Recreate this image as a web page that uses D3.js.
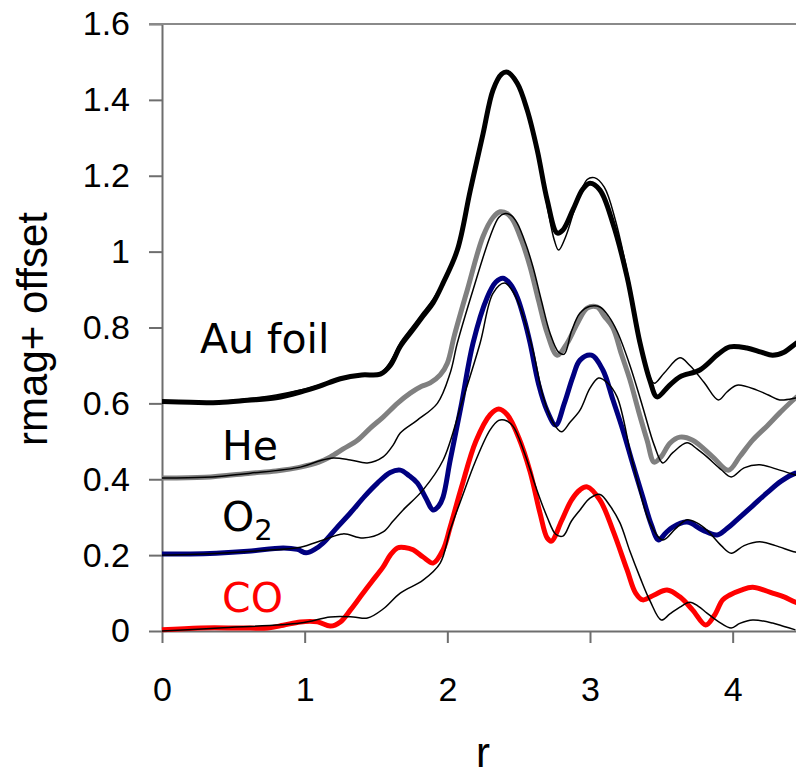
<!DOCTYPE html>
<html>
<head>
<meta charset="utf-8">
<script src="https://cdn.jsdelivr.net/npm/d3@7"></script>
<style>
  body { margin: 0; background: #fff; }
  svg { display: block; }
</style>
</head>
<body>
<div id="chart"></div>
<script>
// x ticks, y ticks
const xTicks = [0, 1, 2, 3, 4];
const yTicks = [0, 0.2, 0.4, 0.6, 0.8, 1, 1.2, 1.4, 1.6];

// measured curves, [r, rmag+offset]
const auFoil = [[0,0.605],[0.2,0.603],[0.4,0.602],[0.6,0.608],[0.8,0.615],[0.97,0.63],[1.1,0.645],[1.25,0.665],[1.4,0.675],[1.53,0.677],[1.6,0.70],[1.67,0.75],[1.75,0.79],[1.83,0.83],[1.9,0.865],[1.97,0.917],[2.07,1.004],[2.16,1.16],[2.25,1.31],[2.32,1.426],[2.38,1.468],[2.42,1.473],[2.49,1.444],[2.56,1.373],[2.63,1.268],[2.70,1.136],[2.77,1.049],[2.81,1.057],[2.88,1.11],[2.95,1.165],[3.0,1.18],[3.07,1.162],[3.16,1.075],[3.26,0.933],[3.35,0.76],[3.42,0.66],[3.47,0.617],[3.55,0.645],[3.63,0.67],[3.77,0.688],[3.9,0.73],[3.98,0.749],[4.10,0.746],[4.2,0.735],[4.28,0.727],[4.36,0.735],[4.44,0.757],[4.5,0.77]];
const auFit = [[0,0.605],[0.2,0.603],[0.4,0.605],[0.6,0.612],[0.8,0.622],[0.97,0.635],[1.1,0.648],[1.25,0.665],[1.4,0.675],[1.53,0.68],[1.6,0.71],[1.67,0.76],[1.75,0.80],[1.83,0.84],[1.9,0.875],[1.97,0.92],[2.07,1.01],[2.16,1.17],[2.25,1.32],[2.32,1.43],[2.38,1.47],[2.42,1.475],[2.49,1.45],[2.56,1.38],[2.63,1.27],[2.70,1.12],[2.75,1.03],[2.78,1.004],[2.83,1.04],[2.9,1.12],[2.98,1.19],[3.03,1.195],[3.1,1.17],[3.18,1.08],[3.27,0.93],[3.35,0.77],[3.41,0.68],[3.45,0.653],[3.52,0.68],[3.63,0.72],[3.7,0.70],[3.8,0.655],[3.9,0.609],[3.96,0.63],[4.03,0.648],[4.17,0.635],[4.25,0.622],[4.33,0.609],[4.44,0.614],[4.5,0.62]];
const he = [[0,0.403],[0.3,0.405],[0.62,0.416],[0.8,0.422],[0.97,0.432],[1.1,0.445],[1.18,0.459],[1.27,0.48],[1.37,0.503],[1.46,0.535],[1.55,0.564],[1.65,0.60],[1.74,0.627],[1.82,0.645],[1.88,0.654],[1.95,0.675],[2.0,0.706],[2.05,0.78],[2.14,0.899],[2.25,1.04],[2.32,1.09],[2.37,1.105],[2.42,1.10],[2.46,1.083],[2.52,1.03],[2.58,0.96],[2.64,0.87],[2.70,0.785],[2.77,0.727],[2.84,0.759],[2.91,0.81],[2.98,0.851],[3.05,0.854],[3.10,0.83],[3.16,0.80],[3.22,0.73],[3.28,0.662],[3.34,0.58],[3.40,0.503],[3.45,0.445],[3.5,0.46],[3.56,0.495],[3.63,0.511],[3.72,0.503],[3.86,0.459],[3.97,0.424],[4.05,0.46],[4.14,0.503],[4.24,0.54],[4.33,0.575],[4.44,0.614],[4.5,0.63]];
const heFit = [[0,0.403],[0.3,0.405],[0.62,0.416],[0.97,0.432],[1.1,0.448],[1.2,0.456],[1.32,0.451],[1.44,0.443],[1.55,0.459],[1.62,0.49],[1.67,0.522],[1.79,0.556],[1.93,0.60],[2.02,0.68],[2.07,0.759],[2.18,0.899],[2.30,1.04],[2.36,1.09],[2.40,1.10],[2.45,1.095],[2.49,1.075],[2.55,1.02],[2.60,0.96],[2.66,0.87],[2.72,0.785],[2.78,0.735],[2.82,0.73],[2.87,0.79],[2.93,0.838],[3.0,0.856],[3.07,0.854],[3.13,0.83],[3.19,0.79],[3.28,0.70],[3.37,0.59],[3.45,0.49],[3.51,0.443],[3.58,0.47],[3.68,0.496],[3.75,0.48],[3.82,0.459],[3.92,0.425],[3.99,0.406],[4.08,0.43],[4.19,0.438],[4.33,0.424],[4.44,0.411],[4.5,0.405]];
const o2 = [[0,0.203],[0.2,0.203],[0.38,0.205],[0.6,0.21],[0.85,0.219],[0.95,0.215],[1.01,0.206],[1.07,0.215],[1.13,0.232],[1.22,0.27],[1.32,0.311],[1.42,0.355],[1.51,0.39],[1.6,0.418],[1.67,0.424],[1.73,0.41],[1.79,0.39],[1.85,0.35],[1.90,0.319],[1.94,0.33],[1.97,0.353],[2.02,0.45],[2.1,0.6],[2.18,0.759],[2.28,0.88],[2.34,0.92],[2.39,0.93],[2.44,0.915],[2.49,0.88],[2.54,0.82],[2.58,0.759],[2.64,0.65],[2.70,0.58],[2.76,0.543],[2.82,0.6],[2.88,0.67],[2.93,0.714],[3.01,0.727],[3.09,0.688],[3.16,0.61],[3.23,0.53],[3.30,0.44],[3.37,0.353],[3.43,0.28],[3.48,0.24],[3.53,0.258],[3.58,0.274],[3.68,0.287],[3.79,0.266],[3.89,0.253],[3.96,0.27],[4.03,0.293],[4.14,0.33],[4.24,0.364],[4.34,0.395],[4.44,0.416],[4.5,0.42]];
const o2Fit = [[0,0.2],[0.4,0.205],[0.7,0.212],[0.97,0.221],[1.13,0.24],[1.27,0.256],[1.41,0.245],[1.55,0.261],[1.62,0.29],[1.69,0.319],[1.83,0.372],[1.97,0.45],[2.1,0.6],[2.23,0.759],[2.32,0.89],[2.40,0.917],[2.45,0.9],[2.51,0.854],[2.60,0.74],[2.67,0.62],[2.74,0.55],[2.80,0.525],[2.86,0.55],[2.93,0.582],[3.0,0.64],[3.06,0.667],[3.12,0.655],[3.19,0.617],[3.30,0.443],[3.42,0.285],[3.51,0.24],[3.6,0.27],[3.68,0.293],[3.75,0.285],[3.82,0.266],[3.92,0.225],[3.99,0.205],[4.08,0.225],[4.19,0.235],[4.3,0.225],[4.44,0.208],[4.5,0.205]];
const co = [[0,0.003],[0.27,0.008],[0.55,0.008],[0.74,0.008],[0.85,0.015],[0.97,0.024],[1.09,0.024],[1.18,0.013],[1.25,0.024],[1.32,0.055],[1.39,0.09],[1.47,0.13],[1.55,0.169],[1.60,0.2],[1.65,0.219],[1.70,0.22],[1.76,0.214],[1.83,0.195],[1.90,0.179],[1.97,0.214],[2.02,0.274],[2.1,0.38],[2.2,0.5],[2.3,0.57],[2.36,0.585],[2.42,0.57],[2.5,0.51],[2.58,0.42],[2.65,0.31],[2.70,0.245],[2.73,0.237],[2.8,0.29],[2.87,0.345],[2.93,0.372],[2.98,0.38],[3.07,0.345],[3.16,0.266],[3.26,0.161],[3.32,0.10],[3.37,0.082],[3.45,0.095],[3.54,0.108],[3.63,0.09],[3.72,0.055],[3.81,0.016],[3.87,0.04],[3.93,0.082],[3.98,0.095],[4.06,0.108],[4.14,0.115],[4.28,0.1],[4.36,0.09],[4.44,0.076],[4.5,0.07]];
const coFit = [[0,0.0],[0.4,0.008],[0.97,0.021],[1.18,0.037],[1.34,0.037],[1.44,0.034],[1.55,0.058],[1.67,0.1],[1.83,0.134],[1.95,0.179],[2.02,0.266],[2.1,0.35],[2.2,0.45],[2.3,0.53],[2.36,0.555],[2.4,0.556],[2.46,0.54],[2.54,0.47],[2.62,0.38],[2.7,0.3],[2.76,0.255],[2.81,0.25],[2.87,0.29],[2.93,0.319],[3.0,0.35],[3.07,0.36],[3.14,0.33],[3.21,0.285],[3.28,0.21],[3.35,0.142],[3.42,0.08],[3.50,0.029],[3.56,0.045],[3.63,0.063],[3.70,0.076],[3.76,0.065],[3.82,0.047],[3.9,0.025],[3.99,0.008],[4.05,0.02],[4.14,0.029],[4.28,0.021],[4.36,0.012],[4.44,0.003]];

const width = 796, height = 777;
const svg = d3.select("#chart").append("svg")
    .attr("width", width).attr("height", height);

const x = d3.scaleLinear().domain([0, 4.5]).range([162, 804]);
const y = d3.scaleLinear().domain([0, 1.6]).range([631, 24]);

const axisColor = "#6e6e6e";

// y axis
const yAxis = svg.append("g")
    .attr("transform", "translate(162,0)")
    .call(d3.axisLeft(y).tickValues(yTicks).tickSize(13).tickSizeOuter(0)
        .tickPadding(19).tickFormat(d3.format("~g")));
yAxis.select(".domain").attr("stroke", axisColor).attr("stroke-width", 2);
yAxis.selectAll(".tick line").attr("stroke", axisColor).attr("stroke-width", 2);
yAxis.selectAll(".tick text")
    .style("font-family", "'Liberation Sans', Arial, sans-serif")
    .style("font-size", "34px").attr("fill", "#000");

// top frame line
svg.append("line")
    .attr("x1", 149).attr("x2", width)
    .attr("y1", y(1.6)).attr("y2", y(1.6))
    .attr("stroke", "#8a8a8a").attr("stroke-width", 2);

// x axis
const xAxis = svg.append("g")
    .attr("transform", "translate(0,631)")
    .call(d3.axisBottom(x).tickValues(xTicks).tickSize(12).tickSizeOuter(0)
        .tickFormat(d3.format("d")));
xAxis.select(".domain").attr("stroke", axisColor).attr("stroke-width", 2);
xAxis.selectAll(".tick line").attr("stroke", axisColor).attr("stroke-width", 2);
xAxis.selectAll(".tick text")
    .attr("y", 70).attr("dy", null)
    .style("font-family", "'Liberation Sans', Arial, sans-serif")
    .style("font-size", "34px").attr("fill", "#000");

// axis titles
svg.append("text")
    .attr("transform", "translate(47,329) rotate(-90)")
    .attr("text-anchor", "middle")
    .style("font-family", "'Liberation Sans', Arial, sans-serif")
    .style("font-size", "42px")
    .text("rmag+ offset");

svg.append("text")
    .attr("x", 483).attr("y", 767)
    .attr("text-anchor", "middle")
    .style("font-family", "'Liberation Sans', Arial, sans-serif")
    .style("font-size", "42px")
    .text("r");

// curves
const line = d3.line()
    .x(function (d) { return x(d[0]); })
    .y(function (d) { return y(d[1]); })
    .curve(d3.curveCatmullRom.alpha(0.5));

const plot = svg.append("g");

const thick = [
    {data: auFoil, color: "#000000"},
    {data: he, color: "#808080"},
    {data: o2, color: "#000080"},
    {data: co, color: "#ff0000"}
];
thick.forEach(function (s) {
    plot.append("path")
        .attr("d", line(s.data))
        .attr("fill", "none")
        .attr("stroke", s.color)
        .attr("stroke-width", 5)
        .attr("stroke-linejoin", "round");
});

[auFit, heFit, o2Fit, coFit].forEach(function (s) {
    plot.append("path")
        .attr("d", line(s))
        .attr("fill", "none")
        .attr("stroke", "#000")
        .attr("stroke-width", 1.5);
});

// sample labels
const labelFont = "'DejaVu Sans', Verdana, sans-serif";
svg.append("text").attr("x", 200).attr("y", 353)
    .style("font-family", labelFont).style("font-size", "41px")
    .text("Au foil");
svg.append("text").attr("x", 222).attr("y", 460)
    .style("font-family", labelFont).style("font-size", "41px")
    .text("He");
const o2Label = svg.append("text").attr("x", 222).attr("y", 531)
    .style("font-family", labelFont).style("font-size", "41px");
o2Label.append("tspan").text("O");
o2Label.append("tspan").attr("dy", 9).style("font-size", "29px").text("2");
svg.append("text").attr("x", 222).attr("y", 612)
    .style("font-family", labelFont).style("font-size", "41px")
    .attr("fill", "#ff0000")
    .text("CO");
</script>
</body>
</html>
